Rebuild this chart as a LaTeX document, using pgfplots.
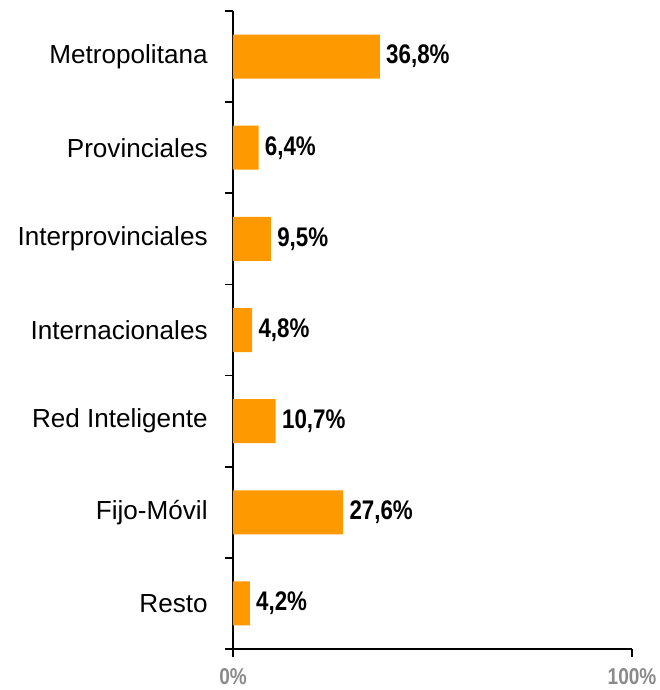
\documentclass[border=0pt]{standalone}
\usepackage{pgfplots}
\usepackage{pgfplotstable}
\pgfplotsset{compat=1.18}
\usepackage{fontspec}
\setmainfont{Liberation Sans}
\newfontfamily\narrowfont[FakeStretch=0.83]{Liberation Sans}
\definecolor{barorange}{HTML}{FF9900}
\definecolor{tickgray}{HTML}{8A8A8A}

% categories from bottom (y=1) to top (y=7)
\pgfplotstableread{
y  v     lab
7  36.8  36,8\%
6  6.4   6,4\%
5  9.5   9,5\%
4  4.8   4,8\%
3  10.7  10,7\%
2  27.6  27,6\%
1  4.2   4,2\%
}\shares

\begin{document}
\begin{tikzpicture}
\useasboundingbox (-116.5bp,-20.5bp) rectangle (213.5bp,324.5bp);
\begin{axis}[
    at={(0,0)}, anchor=south west,
    width=199.5bp, height=319bp, scale only axis,
    xmin=0, xmax=100, ymin=0.5, ymax=7.5,
    axis x line*=bottom, axis y line*=left,
    axis line style={-, line width=0.9bp},
    tick align=outside,
    major tick length=4bp, minor tick length=4bp,
    tick style={black, line width=0.9bp},
    xtick={0,100}, xticklabels={0\%,100\%},
    xticklabel style={font=\narrowfont\bfseries\fontsize{11.5}{13}\selectfont,
        text=tickgray, inner sep=0pt, anchor=north, yshift=-5.5bp},
    ytick={1,...,7},
    yticklabels={Resto,Fijo-Móvil,Red Inteligente,Internacionales,Interprovinciales,Provinciales,Metropolitana},
    major y tick style={draw=none},
    minor ytick={0.5,1.5,...,7.5},
    yticklabel style={font=\fontsize{13.1}{15}\selectfont, inner sep=0pt,
        anchor=east, xshift=-8.5bp},
    xbar, bar width=22bp,
    point meta=explicit symbolic,
    nodes near coords,
    every node near coord/.append style={anchor=west, inner sep=0pt, xshift=3bp,
        font=\narrowfont\bfseries\fontsize{13.5}{15}\selectfont, text=black},
    clip=false,
]
\addplot[fill=barorange, draw=none] table[x=v, y=y, meta=lab] {\shares};
\end{axis}
\end{tikzpicture}
\end{document}
